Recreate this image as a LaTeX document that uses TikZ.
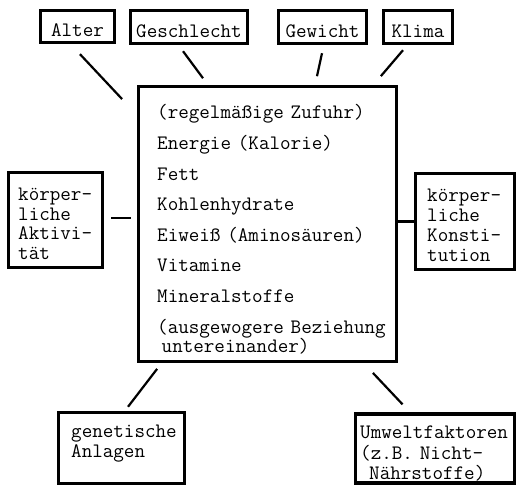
\documentclass[tikz,border=0pt]{standalone}
\usepackage{fontspec}
\usetikzlibrary{calc}
\begin{document}
\begin{tikzpicture}[x=1pt,y=-1pt,
  box/.style={draw, line width=3.4pt, inner sep=0pt},
  topbox/.style={box, text height=21pt, text depth=0pt,
    font=\ttfamily\fontsize{20.5}{20}\selectfont},
  txt/.style={anchor=base west, inner sep=0pt, align=left, text width=#1},
  txt/.default=120pt,
  conn/.style={line width=2.2pt}]
\useasboundingbox (0,0) rectangle (517,486);

% top boxes
\node[topbox, minimum width=74pt, minimum height=32pt] (alter) at (77.5,26.5) {Alter};
\node[topbox, minimum width=117pt, minimum height=33pt] (geschlecht) at (189,27) {Geschlecht};
\node[topbox, minimum width=88pt, minimum height=33pt] (gewicht) at (322.5,27) {Gewicht};
\node[topbox, minimum width=69pt, minimum height=33pt] (klima) at (418,27) {Klima};

% main box
\node[box, line width=2.8pt, minimum width=258pt, minimum height=275pt] (main) at (267.5,224) {};
\node[txt=260pt, font=\ttfamily\fontsize{20.5}{30.6}\selectfont] (inhalt) at (157,119)
  {(regelmäßige Zufuhr)\\
   Energie (Kalorie)\\
   Fett\\
   Kohlenhydrate\\
   Eiweiß (Aminosäuren)\\
   Vitamine\\
   Mineralstoffe\\
   (ausgewogere Beziehung\\[-10.8pt]
   \hspace*{4.5pt}untereinander)};

% side boxes
\node[box, minimum width=94pt, minimum height=95pt] (aktiv) at (55.5,220) {};
\node[txt=90pt, font=\ttfamily\fontsize{20.5}{19.4}\selectfont] (aktivtxt) at (18,201)
  {körper-\\liche\\Aktivi-\\tät};
\node[box, minimum width=99pt, minimum height=96pt] (konst) at (465,221.5) {};
\node[txt=90pt, font=\ttfamily\fontsize{20.5}{20}\selectfont] (konsttxt) at (427,202)
  {körper-\\liche\\Konsti-\\tution};

% bottom boxes
\node[box, minimum width=126pt, minimum height=71pt] (genetisch) at (121.5,448) {};
\node[txt=120pt, font=\ttfamily\fontsize{20.5}{20}\selectfont] (genetischtxt) at (71,437)
  {genetische\\Anlagen};
\node[box, minimum width=159pt, minimum height=69pt] (umwelt) at (435,448.5) {};
\node[txt=160pt, font=\ttfamily\fontsize{20.5}{21}\selectfont] (umwelttxt) at (360,438)
  {Umweltfaktoren\\(z.B. Nicht-\\\hspace*{9pt}Nährstoffe)};

% connectors
\draw[conn] ($(alter.south)+(2.5,10)$) -- ($(main.north west)+(-15,14)$);
\draw[conn] ($(geschlecht.south)+(-6,6)$) -- ($(geschlecht.south)+(14,33)$);
\draw[conn] ($(gewicht.south)+(-0.5,8)$) -- ($(gewicht.south)+(-5.5,31)$);
\draw[conn] ($(klima.south)+(-15,5)$) -- ($(main.north east)+(-17,-9)$);
\draw[conn] ($(aktiv.east)+(7,-2)$) -- ($(main.west)+(-6,-6)$);
\draw[conn] (main.east |- konst.west) -- (konst.west);
\draw[conn] ($(main.south west)+(20,6)$) -- ($(genetisch.north)+(6.5,-4)$);
\draw[conn] ($(main.south east)+(-25,10)$) -- ($(umwelt.north)+(-32.5,-8)$);
\end{tikzpicture}
\end{document}
